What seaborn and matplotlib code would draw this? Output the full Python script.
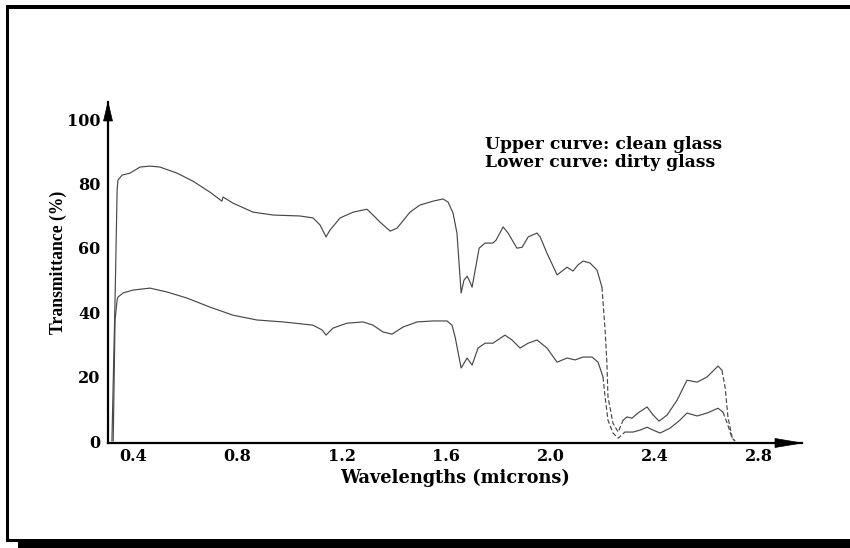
import matplotlib
matplotlib.use("Agg")
import matplotlib.pyplot as plt
import seaborn as sns
import pandas as pd
from matplotlib.patches import Rectangle, Polygon

# Transmittance spectra of a glass pane, clean and dirty
wavelength_clean = [
    0.319, 0.331, 0.339, 0.342, 0.358, 0.388, 0.427, 0.465, 0.503, 0.569,
    0.630, 0.695, 0.741, 0.745, 0.783, 0.860, 0.937, 1.040, 1.090, 1.117,
    1.140, 1.155, 1.194, 1.244, 1.297, 1.320, 1.347, 1.386, 1.412, 1.462,
    1.500, 1.550, 1.589, 1.608, 1.627, 1.642, 1.658, 1.669, 1.681, 1.692,
    1.700, 1.712, 1.727, 1.750, 1.780, 1.792, 1.819, 1.838, 1.872, 1.892,
    1.915, 1.949, 1.961, 1.987, 2.026, 2.064, 2.087, 2.106, 2.126, 2.152,
    2.179, 2.198, 2.210, 2.217, 2.221, 2.240, 2.260, 2.279, 2.294, 2.313,
    2.336, 2.371, 2.394, 2.417, 2.448, 2.486, 2.524, 2.563, 2.601, 2.643,
    2.658, 2.670, 2.681, 2.697, 2.708,
]
transmittance_clean = [
    0.0, 43.8, 78.0, 81.0, 82.6, 83.2, 85.1, 85.4, 85.1, 83.2,
    80.7, 77.3, 74.5, 75.8, 73.9, 71.1, 70.2, 69.9, 69.3, 67.1,
    63.4, 65.5, 69.3, 71.1, 72.0, 70.2, 68.0, 65.2, 66.1, 71.1,
    73.3, 74.5, 75.2, 74.2, 70.8, 64.6, 46.0, 50.0, 51.2, 49.4,
    47.8, 53.1, 59.9, 61.5, 61.5, 62.4, 66.5, 64.6, 59.9, 60.2,
    63.4, 64.6, 63.4, 58.4, 51.6, 54.0, 52.8, 54.7, 55.9, 55.3,
    53.1, 47.8, 34.5, 24.2, 13.7, 5.6, 2.8, 6.5, 7.5, 7.1,
    8.7, 10.6, 8.1, 6.2, 8.1, 12.7, 18.9, 18.3, 19.9, 23.3,
    22.0, 16.8, 7.5, 1.2, 0.0,
]

wavelength_dirty = [
    0.324, 0.331, 0.339, 0.342, 0.362, 0.400, 0.465, 0.530, 0.607, 0.695,
    0.783, 0.875, 0.975, 1.090, 1.125, 1.140, 1.167, 1.220, 1.282, 1.320,
    1.358, 1.393, 1.435, 1.489, 1.550, 1.604, 1.623, 1.635, 1.658, 1.681,
    1.700, 1.723, 1.750, 1.780, 1.826, 1.853, 1.884, 1.915, 1.949, 1.987,
    2.026, 2.064, 2.095, 2.126, 2.160, 2.183, 2.202, 2.210, 2.221, 2.240,
    2.260, 2.286, 2.317, 2.344, 2.371, 2.394, 2.421, 2.459, 2.497, 2.524,
    2.563, 2.601, 2.643, 2.662, 2.678, 2.697, 2.708,
]
transmittance_dirty = [
    0.0, 37.6, 43.8, 44.7, 46.0, 46.9, 47.5, 46.3, 44.4, 41.6,
    39.1, 37.6, 37.0, 36.0, 34.5, 32.9, 35.1, 36.6, 37.0, 36.0,
    33.9, 33.2, 35.4, 37.0, 37.3, 37.3, 36.0, 32.3, 22.7, 25.8,
    23.6, 28.9, 30.4, 30.4, 32.9, 31.4, 28.9, 30.4, 31.4, 28.9,
    24.5, 25.8, 25.2, 26.1, 26.1, 24.5, 19.9, 13.7, 6.5, 2.5,
    0.9, 2.8, 2.8, 3.4, 4.3, 3.4, 2.5, 4.0, 6.5, 8.7,
    7.8, 8.7, 10.2, 9.0, 5.6, 0.9, 0.0,
]

x_ticks = [0.4, 0.8, 1.2, 1.6, 2.0, 2.4, 2.8]
x_tick_labels = ["0.4", "0.8", "1.2", "1.6", "2.0", "2.4", "2.8"]
y_ticks = [0, 20, 40, 60, 80, 100]
y_tick_labels = ["0", "20", "40", "60", "80", "100"]

legend_lines = ["Upper curve: clean glass", "Lower curve: dirty glass"]

# wavelength bands where the trace was recorded as a broken line
dashed_bands = [(2.19, 2.27), (2.655, 2.72)]

sns.set_style("white")
W, H = 850, 548
fig = plt.figure(figsize=(W / 100, H / 100), dpi=100)
fig.patch.set_facecolor("white")

ax_rect = [108 / W, 1 - 443 / H, (802 - 108) / W, (443 - 102) / H]
ax = fig.add_axes(ax_rect)
ax.set_facecolor("white")

bold_serif = dict(family="DejaVu Serif", weight="bold")
line_color = "#484848"


def split_pieces(wl, tr):
    """Yield (DataFrame, dashed?) pieces of one spectrum, sharing endpoints."""
    def in_band(w):
        return any(lo <= w <= hi for lo, hi in dashed_bands)

    pieces = []
    cur_x, cur_y = [wl[0]], [tr[0]]
    cur_flag = in_band(wl[0])
    for w, t in zip(wl[1:], tr[1:]):
        flag = in_band(w)
        if flag != cur_flag:
            cur_x.append(w)
            cur_y.append(t)
            pieces.append((pd.DataFrame({"wl": cur_x, "tr": cur_y}), cur_flag))
            cur_x, cur_y = [w], [t]
            cur_flag = flag
        else:
            cur_x.append(w)
            cur_y.append(t)
    pieces.append((pd.DataFrame({"wl": cur_x, "tr": cur_y}), cur_flag))
    return pieces


for wl, tr in [(wavelength_clean, transmittance_clean),
               (wavelength_dirty, transmittance_dirty)]:
    for df, dashed in split_pieces(wl, tr):
        sns.lineplot(data=df, x="wl", y="tr", ax=ax, sort=False,
                     estimator=None, color=line_color, linewidth=0.85,
                     linestyle=(0, (4, 2)) if dashed else "-")

ax.set_xlim(0.304, 2.965)
ax.set_ylim(-0.6, 105.3)

sns.despine(ax=ax)
for side in ("left", "bottom"):
    ax.spines[side].set_linewidth(1.6)
    ax.spines[side].set_color("black")

# arrow heads at the ends of both axes
aw = ax_rect[2] * W
ah = ax_rect[3] * H
ax.add_patch(Polygon([(1, 0), (1 - 27 / aw, 4.5 / ah), (1 - 27 / aw, -4.5 / ah)],
                     closed=True, transform=ax.transAxes, clip_on=False,
                     facecolor="black", edgecolor="black", lw=0.5))
ax.add_patch(Polygon([(0, 1), (-4.5 / aw, 1 - 19 / ah), (4.5 / aw, 1 - 19 / ah)],
                     closed=True, transform=ax.transAxes, clip_on=False,
                     facecolor="black", edgecolor="black", lw=0.5))

ax.set_xticks(x_ticks, x_tick_labels)
ax.set_yticks(y_ticks, y_tick_labels)
ax.tick_params(axis="both", length=0)
ax.tick_params(axis="x", pad=3.5)
ax.tick_params(axis="y", pad=5.5)
for lab in ax.get_xticklabels() + ax.get_yticklabels():
    lab.set_fontfamily("DejaVu Serif")
    lab.set_fontweight("bold")
    lab.set_fontsize(11.5)
    lab.set_color("black")

ax.set_xlabel("Wavelengths (microns)", fontsize=12.8, color="black", **bold_serif)
ax.xaxis.set_label_coords((455 - 108) / aw, -(469 - 443) / ah)
ax.set_ylabel("Transmittance (%)", fontsize=12.7, color="black",
              family="Liberation Serif", weight="bold")
ax.yaxis.set_label_coords(-(108 - 67) / aw, (443 - 262) / ah)

fig.text(485 / W, 1 - 149 / H, legend_lines[0], ha="left", va="baseline",
         fontsize=12.3, color="black", **bold_serif)
fig.text(485 / W, 1 - 167 / H, legend_lines[1], ha="left", va="baseline",
         fontsize=12.3, color="black", **bold_serif)

# page frame with a drop shadow along the bottom
frame = dict(transform=fig.transFigure, facecolor="black", edgecolor="none")
fig.patches.append(Rectangle((6 / W, 1 - 8.5 / H), (W - 6) / W, 3 / H, **frame))
fig.patches.append(Rectangle((6 / W, 1 - 541.5 / H), 3 / W, 535 / H, **frame))
fig.patches.append(Rectangle((6 / W, 1 - 541.5 / H), (W - 6) / W, 3 / H, **frame))
fig.patches.append(Rectangle((18 / W, 0), (W - 18) / W, 8 / H, **frame))

fig.savefig("out.png", dpi=100, facecolor="white")
